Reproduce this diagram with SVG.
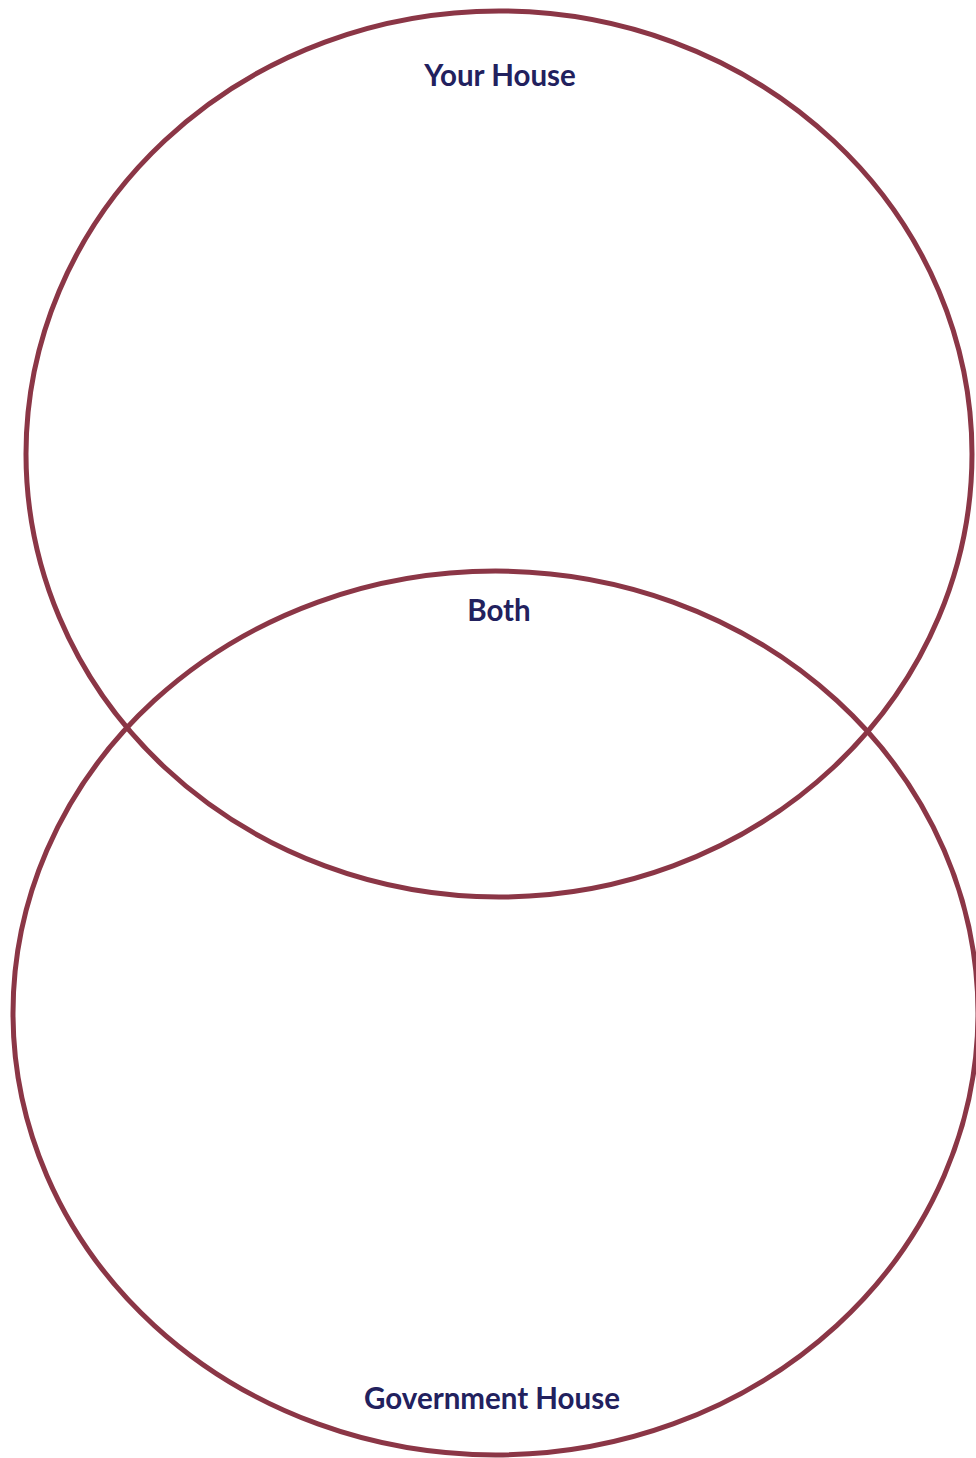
<svg xmlns="http://www.w3.org/2000/svg" width="976" height="1458" viewBox="0 0 976 1458">
<style>
.c{fill:none;stroke:#8b3646;stroke-width:5}
.t{font-family:Lato,"Liberation Sans",sans-serif;font-weight:bold;font-size:29.5px;fill:#22215e;text-anchor:middle}
</style>
<rect width="976" height="1458" fill="#fff"/>
<g id="your-house">
<ellipse class="c" cx="499" cy="454" rx="473" ry="443"/>
<text class="t" x="500" y="85.5">Your House</text>
</g>
<g id="government-house">
<ellipse class="c" cx="495.5" cy="1013" rx="482.5" ry="442"/>
<text class="t" x="492" y="1408.5">Government House</text>
</g>
<g id="both">
<text class="t" x="499" y="620.5">Both</text>
</g>
<g id="connectors"/>
</svg>
